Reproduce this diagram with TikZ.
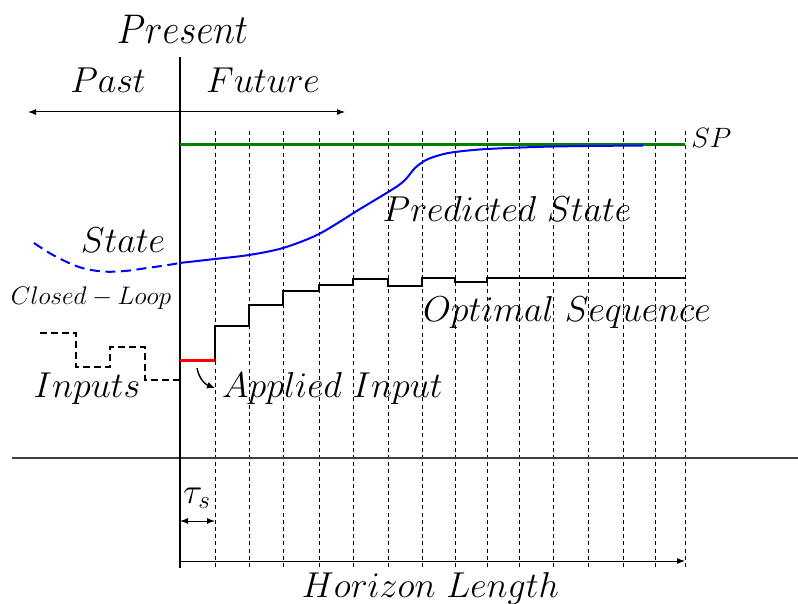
\RequirePackage{fix-cm}
\documentclass[tikz,border=0pt]{standalone}
\usepackage{graphicx}
\usetikzlibrary{arrows.meta}
\begin{document}
\begin{tikzpicture}[x=0.5pt,y=-0.5pt,
  lbl/.style={font=\fontsize{18}{20}\selectfont, inner sep=0pt, anchor=base},
  smalllbl/.style={font=\fontsize{12.7}{14}\selectfont, inner sep=0pt, anchor=base},
  splbl/.style={font=\fontsize{14}{16}\selectfont, inner sep=0pt, anchor=base west},
  gridline/.style={line width=0.5pt, dash pattern=on 2pt off 1.6pt},
  axisline/.style={line width=1pt},
  arr/.style={line width=0.5pt, -{Latex[length=4pt,width=3pt]}},
  darr/.style={line width=0.5pt, {Latex[length=4pt,width=3pt]}-{Latex[length=4pt,width=3pt]}},
  stepline/.style={line width=0.9pt, black},
  statecurve/.style={line width=1pt, blue},
  pastin/.style={line width=0.75pt, dash pattern=on 3.5pt off 2pt}]
\useasboundingbox (0,0) rectangle (798,604);

% grid of sampling instants
\foreach \x in {215,249,283,319,353,388,422,455,487,519,553,588,623,655,685}
  \draw[gridline] (\x,131) -- (\x,569);

% horizontal separator
\draw[line width=0.6pt, black!75] (12,458) -- (798,458);

% present axis
\coordinate (axtop) at (179.5,57);
\coordinate (axbot) at (179.5,568);
\draw[axisline] (axtop) -- (axbot);

% past / future arrow
\coordinate (pfL) at (28,112);
\coordinate (pfR) at (345,112);
\draw[darr] (pfL) -- (pfR);

% set point
\coordinate (spL) at (179.5,144.3);
\coordinate (spR) at (685,144.3);
\draw[line width=1.3pt, green!50!black] (spL) -- (spR);

% past state (dashed)
\draw[statecurve, dash pattern=on 5pt off 2.8pt] plot[smooth, tension=0.6] coordinates
  {(34,243) (53,255) (79,267) (103,271.5) (125,271) (147,268) (168,265) (179.5,263)};
% predicted state
\draw[statecurve] plot[smooth, tension=0.5] coordinates
  {(179.5,263) (215,259) (249,255) (283,248) (319,234) (360,209) (393,189) (405,180) (415,168) (426,160) (440,155) (455,152) (487,149) (553,146.5) (643,145.5)};

% optimal sequence
\draw[stepline] (215,360.7) -- (215,326) -- (249,326) -- (249,305) -- (283,305) -- (283,291)
  -- (319,291) -- (319,285) -- (353,285) -- (353,279) -- (388,279) -- (388,286) -- (422,286)
  -- (422,278) -- (455,278) -- (455,282) -- (487,282) -- (487,278) -- (685,278);
% applied input
\draw[line width=1.2pt, red] (179.5,360.7) -- (215,360.7);

% past closed-loop inputs
\draw[pastin] (40,333) -- (76,333) -- (76,367) -- (110,367) -- (110,347) -- (145,347) -- (145,380) -- (179,380);

% applied input arrow
\coordinate (aiS) at (197,368);
\coordinate (aiE) at (215,388);
\draw[line width=0.7pt, -{Latex[length=4pt,width=3.5pt]}] (aiS) to[out=-80,in=160] (aiE);

% tau_s arrow
\coordinate (tauL) at (180,521);
\coordinate (tauR) at (215,521);
\draw[darr] (tauL) -- (tauR);

% horizon arrow
\coordinate (hzL) at (180,561);
\coordinate (hzR) at (685,561);
\draw[arr] (hzL) -- (hzR);

% labels
\node[lbl] (present) at (182.5,43.5) {\scalebox{1.03}[1.15]{$Present$}};
\node[lbl] (past) at (108,92.5) {$Past$};
\node[lbl] (future) at (263,92.5) {$Future$};
\node[splbl] (sp) at (691,148) {$SP$};
\node[lbl] (pstate) at (507,222) {$Predicted\ State$};
\node[lbl] (state) at (123,253) {$State$};
\node[smalllbl] (closed) at (91,305) {$Closed-Loop$};
\node[lbl] (optseq) at (567,321.5) {$Optimal\ Sequence$};
\node[lbl] (inputs) at (87,397) {$Inputs$};
\node[lbl] (applied) at (332.5,397) {$Applied\ Input$};
\node[lbl] (tau) at (197,503) {$\tau_s$};
\node[lbl] (horizon) at (430.5,597) {$Horizon\ Length$};
\end{tikzpicture}
\end{document}
